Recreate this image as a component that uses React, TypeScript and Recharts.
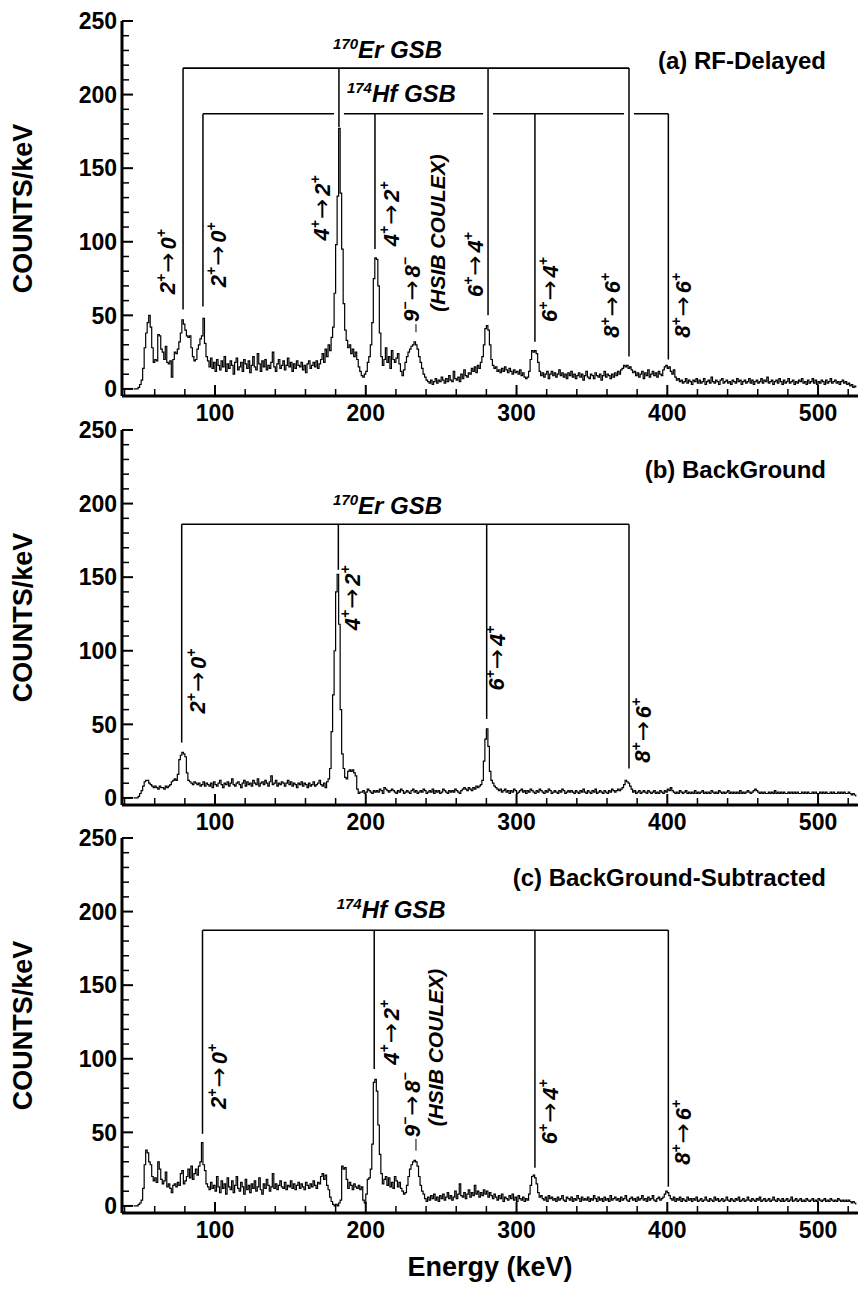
import React from 'react';
import { LineChart, Line, XAxis, YAxis, ReferenceLine, ReferenceDot } from 'recharts';

const FONT = '"Liberation Sans", Arial, Helvetica, sans-serif';

// ---------- axes ----------
const BIN_START = 46; // keV, energy of the first 1-keV bin
const X_DOMAIN: [number, number] = [38.3, 526.5];
const Y_DOMAIN: [number, number] = [-4.8, 250];
const X_TICKS = [40, 60, 80, 100, 120, 140, 160, 180, 200, 220, 240, 260, 280, 300, 320, 340, 360, 380, 400, 420, 440, 460, 480, 500, 520];
const Y_TICKS = [0, 10, 20, 30, 40, 50, 60, 70, 80, 90, 100, 110, 120, 130, 140, 150, 160, 170, 180, 190, 200, 210, 220, 230, 240, 250];

// ---------- (a) RF-Delayed spectrum, counts per 1-keV bin ----------
const rfDelayedLow = [
  0, 0, 0, 1, 3, 6, 14, 28, 38, 45,
  50, 42, 28, 18, 20, 19, 37, 36, 27, 25,
  20, 29, 18, 17, 19, 8, 20, 25, 24, 27,
  32, 38, 47, 44, 40, 36, 35, 36, 28, 22,
  19, 20, 27, 30, 34, 36, 48, 31, 22, 19,
  15, 21, 14, 18, 12, 20, 16, 13, 19, 15,
  22, 12, 17, 14, 19, 16, 10, 18, 21, 13,
  15, 18, 12, 20, 17, 14, 19, 11, 16, 22,
  15, 13, 24, 17, 12, 19, 15, 20, 13, 16,
  14, 18, 25, 15, 12, 17, 20, 14, 16, 19,
  13, 16, 21, 15, 18, 12, 17, 14, 19, 16,
  15, 18, 13, 16, 11, 17, 19, 14, 16, 18,
  15, 19, 14, 17, 20, 24, 18, 27, 22, 30,
  26, 35, 42, 65, 98, 131, 177, 133, 95, 58,
  40, 33, 28, 30, 24, 27, 22, 25, 20, 15,
  12, 9, 8, 10, 12, 18, 22, 30, 45, 75,
];
const rfDelayedMid = [
  89, 88, 70, 38, 22, 16, 20, 28, 18, 22,
  14, 26, 20, 18, 21, 24, 17, 12, 9, 13,
  18, 22, 25, 27, 29, 30, 32, 30, 27, 22,
  18, 14, 10, 8, 6, 5, 4, 6, 3, 5,
  7, 4, 6, 5, 8, 6, 4, 7, 5, 9,
  6, 5, 12, 7, 6, 8, 5, 10, 7, 13,
  9, 8, 11, 10, 14, 12, 15, 11, 16, 14,
  18, 22, 30, 41, 43, 40, 30, 20, 16, 14,
  15, 12, 13, 11, 14, 12, 15, 13, 11, 14,
  12, 10, 13, 11, 12, 10, 13, 9, 11, 8,
  7, 8, 12, 20, 26, 25, 26, 24, 18, 12,
  9, 11, 8, 10, 12, 7, 10, 12, 9, 11,
  8, 10, 13, 9, 11, 8, 10, 7, 11, 9,
  12, 8, 10, 7, 9, 11, 8, 10, 6, 9,
  12, 8, 7, 10, 9, 7, 11, 9, 8, 10,
  6, 9, 12, 8, 10, 9, 7, 10, 8, 11,
];
const rfDelayedHigh = [
  9, 12, 10, 13, 14, 16, 15, 16, 14, 15,
  13, 11, 12, 9, 11, 8, 10, 12, 7, 11,
  9, 13, 8, 10, 12, 9, 11, 8, 12, 10,
  9, 13, 15, 16, 14, 15, 12, 10, 13, 8,
  6, 7, 5, 6, 4, 5, 7, 4, 6, 5,
  3, 6, 5, 7, 4, 6, 4, 5, 7, 3,
  5, 6, 4, 8, 5, 4, 6, 5, 3, 6,
  7, 4, 5, 6, 4, 5, 3, 6, 5, 4,
  7, 5, 6, 3, 5, 6, 4, 5, 7, 4,
  6, 3, 5, 6, 4, 5, 7, 4, 6, 5,
  8, 4, 5, 6, 3, 5, 6, 4, 7, 5,
  3, 6, 4, 5, 7, 4, 5, 6, 3, 5,
  4, 6, 5, 7, 4, 5, 3, 6, 4, 5,
  7, 4, 6, 3, 5, 4, 6, 5, 3, 6,
  4, 5, 7, 4, 5, 6, 4, 5, 3, 5,
  6, 4, 5, 3, 4, 2, 3, 1, 2, 1,
];

// ---------- (b) BackGround spectrum ----------
const backgroundLow = [
  0, 0, 0, 1, 3, 5, 8, 11, 12, 12,
  10, 9, 8, 7, 8, 7, 6, 8, 7, 7,
  6, 8, 7, 8, 9, 11, 12, 13, 12, 16,
  26, 29, 31, 30, 28, 17, 12, 11, 10, 9,
  11, 10, 9, 10, 8, 9, 11, 8, 10, 9,
  8, 10, 7, 11, 9, 8, 10, 12, 9, 7,
  10, 9, 11, 8, 10, 13, 9, 8, 10, 11,
  9, 7, 10, 12, 8, 11, 9, 10, 8, 12,
  10, 9, 13, 8, 10, 11, 9, 12, 10, 8,
  11, 15, 9, 10, 12, 8, 10, 9, 11, 10,
  8, 10, 12, 9, 11, 8, 10, 9, 7, 10,
  9, 11, 8, 10, 9, 7, 10, 8, 9, 11,
  8, 9, 10, 12, 9, 8, 10, 7, 11, 13,
  20, 45, 70, 100, 140, 152, 118, 60, 30, 20,
  14, 13, 18, 19, 18, 19, 17, 15, 6, 3,
  4, 4, 5, 3, 4, 6, 5, 4, 3, 5,
];
const backgroundMid = [
  4, 5, 4, 6, 5, 3, 7, 6, 5, 4,
  5, 6, 5, 4, 3, 5, 4, 6, 5, 3,
  4, 5, 4, 3, 5, 6, 4, 5, 3, 4,
  5, 4, 6, 5, 3, 4, 5, 4, 6, 3,
  5, 4, 5, 3, 4, 6, 5, 4, 3, 5,
  4, 5, 4, 6, 5, 4, 3, 5, 6, 7,
  6, 5, 7, 6, 5, 7, 6, 8, 7, 8,
  9, 12, 25, 40, 47, 35, 18, 12, 10, 8,
  7, 6, 5, 6, 4, 5, 6, 4, 5, 3,
  5, 4, 6, 5, 3, 4, 5, 6, 4, 5,
  3, 5, 4, 6, 5, 4, 3, 5, 4, 6,
  5, 4, 3, 5, 4, 6, 5, 3, 4, 5,
  4, 3, 5, 4, 6, 5, 3, 4, 5, 4,
  5, 4, 3, 5, 4, 3, 5, 4, 6, 4,
  3, 5, 4, 3, 5, 4, 6, 3, 4, 5,
  4, 3, 5, 4, 3, 5, 4, 6, 5, 4,
];
const backgroundHigh = [
  5, 6, 5, 6, 7, 9, 12, 11, 10, 8,
  6, 4, 5, 3, 4, 5, 3, 4, 5, 4,
  3, 5, 4, 3, 4, 5, 3, 4, 3, 5,
  4, 3, 5, 4, 6, 5, 7, 5, 4, 3,
  4, 3, 5, 4, 3, 4, 5, 3, 4, 3,
  4, 3, 5, 3, 4, 3, 4, 5, 3, 4,
  3, 4, 3, 5, 4, 3, 4, 3, 5, 4,
  3, 4, 3, 4, 5, 3, 4, 3, 4, 3,
  4, 3, 5, 3, 4, 3, 4, 5, 4, 3,
  4, 5, 6, 5, 4, 3, 4, 3, 4, 3,
  3, 4, 3, 4, 3, 5, 3, 4, 3, 4,
  3, 4, 3, 3, 4, 3, 4, 3, 4, 3,
  4, 3, 3, 4, 3, 4, 3, 4, 3, 3,
  4, 3, 4, 3, 3, 4, 3, 4, 3, 4,
  3, 3, 4, 3, 4, 3, 3, 4, 3, 4,
  3, 4, 3, 3, 4, 3, 2, 3, 2, 1,
];

// ---------- (c) BackGround-Subtracted spectrum ----------
const subtractedLow = [
  0, 0, 0, 1, 2, 4, 12, 28, 38, 36,
  30, 28, 20, 17, 19, 16, 30, 25, 18, 15,
  17, 23, 13, 15, 12, 9, 14, 15, 13, 16,
  14, 22, 24, 15, 17, 20, 25, 19, 27, 18,
  22, 25, 21, 27, 30, 43, 28, 24, 15, 13,
  11, 16, 12, 14, 10, 20, 13, 9, 17, 12,
  15, 8, 19, 13, 11, 17, 9, 14, 20, 12,
  10, 16, 13, 8, 18, 11, 14, 9, 15, 12,
  17, 10, 13, 19, 11, 8, 15, 12, 18, 14,
  10, 13, 22, 12, 15, 11, 14, 17, 13, 12,
  16, 11, 14, 13, 17, 12, 15, 11, 14, 16,
  12, 15, 13, 11, 16, 14, 12, 15, 13, 17,
  14, 12, 16, 15, 20, 22, 18, 21, 14, 11,
  6, 3, 1, 0, 1, 0, 2, 4, 27, 25,
  26, 18, 12, 16, 14, 11, 15, 13, 12, 14,
  11, 13, 4, 2, 8, 18, 19, 25, 42, 84,
];
const subtractedMid = [
  86, 78, 55, 35, 22, 15, 18, 20, 14, 19,
  13, 16, 12, 20, 17, 13, 16, 12, 10, 8,
  9, 14, 20, 25, 28, 30, 31, 30, 27, 20,
  14, 10, 8, 5, 3, 6, 4, 7, 5, 8,
  4, 6, 3, 7, 5, 8, 4, 6, 9, 5,
  7, 4, 6, 10, 5, 8, 15, 7, 6, 9,
  5, 8, 11, 6, 9, 7, 14, 8, 10, 6,
  9, 7, 11, 8, 10, 6, 9, 7, 5, 8,
  6, 4, 7, 5, 8, 3, 6, 5, 4, 7,
  5, 8, 4, 6, 3, 7, 5, 4, 6, 3,
  5, 4, 8, 14, 20, 21, 19, 15, 9, 6,
  7, 5, 4, 6, 3, 7, 5, 6, 4, 5,
  3, 6, 4, 5, 7, 4, 3, 6, 5, 4,
  6, 3, 5, 4, 7, 5, 3, 6, 4, 5,
  4, 6, 3, 5, 4, 7, 5, 3, 6, 4,
  5, 3, 6, 4, 5, 3, 7, 4, 5, 6,
];
const subtractedHigh = [
  4, 5, 3, 6, 4, 5, 7, 4, 3, 5,
  6, 4, 5, 3, 6, 4, 5, 7, 4, 5,
  3, 6, 4, 5, 7, 4, 3, 5, 6, 4,
  5, 6, 8, 10, 9, 7, 5, 4, 6, 3,
  5, 4, 6, 3, 5, 4, 3, 6, 4, 5,
  3, 5, 4, 6, 3, 4, 5, 3, 4, 6,
  4, 3, 5, 4, 3, 6, 4, 5, 3, 4,
  5, 3, 4, 6, 4, 3, 5, 4, 3, 5,
  4, 6, 3, 4, 5, 3, 4, 6, 4, 3,
  5, 4, 3, 5, 4, 6, 3, 4, 5, 3,
  4, 5, 3, 4, 6, 4, 3, 5, 4, 3,
  5, 3, 4, 5, 3, 4, 6, 3, 4, 5,
  3, 4, 5, 3, 4, 3, 5, 4, 3, 4,
  5, 3, 4, 3, 5, 4, 3, 4, 5, 3,
  4, 3, 5, 4, 3, 4, 3, 5, 4, 3,
  4, 3, 4, 3, 4, 3, 2, 3, 2, 1,
];

// ---------- level-scheme annotations (energies in keV, heights in counts) ----------
type Bracket = { top: number; lines: number[]; ends: number[]; gaps: number[] };
type Trans = { e: number; v: number; a: string; sa: string; b: string; sb: string };
type Note = { e: number; v: number; text: string };
type Caption = { e: number; v: number; sup: string; text: string };
type Mark = { e: number; v1: number; v2: number };

const erBracketA: Bracket = { top: 218, lines: [78.8, 182.2, 281.1, 374.6], ends: [54, 178, 50, 22], gaps: [] };
const hfBracketA: Bracket = { top: 187, lines: [92.0, 206.1, 312.2, 400.7], ends: [56, 95, 32, 20], gaps: [182.2, 281.1, 374.6] };
const erBracketB: Bracket = { top: 186, lines: [77.9, 181.8, 280.2, 374.6], ends: [37.6, 155, 53.7, 20], gaps: [] };
const hfBracketC: Bracket = { top: 187.3, lines: [91.7, 205.6, 312.2, 400.7], ends: [49, 93, 26, 13], gaps: [] };

const transA: Trans[] = [
  { e: 68.8, v: 86.5, a: '2', sa: '+', b: '0', sb: '+' },
  { e: 102.0, v: 91.2, a: '2', sa: '+', b: '0', sb: '+' },
  { e: 170.8, v: 123, a: '4', sa: '+', b: '2', sb: '+' },
  { e: 217.0, v: 119, a: '4', sa: '+', b: '2', sb: '+' },
  { e: 230.5, v: 67.6, a: '9', sa: '−', b: '8', sb: '−' },
  { e: 272.7, v: 84.5, a: '6', sa: '+', b: '4', sb: '+' },
  { e: 322.2, v: 67.6, a: '6', sa: '+', b: '4', sb: '+' },
  { e: 363.1, v: 56.8, a: '8', sa: '+', b: '6', sb: '+' },
  { e: 410.4, v: 56.8, a: '8', sa: '+', b: '6', sb: '+' },
];
const transB: Trans[] = [
  { e: 88.7, v: 79.5, a: '2', sa: '+', b: '0', sb: '+' },
  { e: 190.9, v: 136, a: '4', sa: '+', b: '2', sb: '+' },
  { e: 286.8, v: 95, a: '6', sa: '+', b: '4', sb: '+' },
  { e: 383.8, v: 46, a: '8', sa: '+', b: '6', sb: '+' },
];
const transC: Trans[] = [
  { e: 102.4, v: 88, a: '2', sa: '+', b: '0', sb: '+' },
  { e: 217.0, v: 118, a: '4', sa: '+', b: '2', sb: '+' },
  { e: 230.7, v: 68.8, a: '9', sa: '−', b: '8', sb: '−' },
  { e: 322.2, v: 64, a: '6', sa: '+', b: '4', sb: '+' },
  { e: 410.4, v: 50, a: '8', sa: '+', b: '6', sb: '+' },
];
const notesA: Note[] = [{ e: 247.9, v: 106, text: '(HSIB COULEX)' }];
const notesC: Note[] = [{ e: 246.1, v: 107.6, text: '(HSIB COULEX)' }];
const marksA: Mark[] = [{ e: 233.3, v1: 38.5, v2: 44 }];
const marksC: Mark[] = [{ e: 233.3, v1: 37.5, v2: 45.6 }];
const captionsA: Caption[] = [
  { e: 178.3, v: 225, sup: '170', text: 'Er GSB' },
  { e: 187.5, v: 194.8, sup: '174', text: 'Hf GSB' },
];
const captionsB: Caption[] = [{ e: 178.3, v: 192.9, sup: '170', text: 'Er GSB' }];
const captionsC: Caption[] = [{ e: 180.7, v: 195.5, sup: '174', text: 'Hf GSB' }];
const TITLE_E = 505.3;
const TITLE_V = 217.6;

// ---------- tick renderers ----------
const BottomTick = (p: any) => {
  const v = p.payload.value;
  const major = v % 100 === 0;
  return (
    <g>
      <line x1={p.x} x2={p.x} y1={p.y} y2={p.y - (major ? 11 : 7)} stroke="#000" strokeWidth={major ? 2 : 1.5} />
      {major && (
        <text x={p.x} y={p.y + 25} textAnchor="middle" fontFamily={FONT} fontWeight="bold" fontSize={23} fill="#000">
          {v}
        </text>
      )}
    </g>
  );
};
const TopTick = (p: any) => {
  const v = p.payload.value;
  const major = v % 100 === 0;
  return <line x1={p.x} x2={p.x} y1={p.y} y2={p.y + (major ? 11 : 7)} stroke="#000" strokeWidth={major ? 2 : 1.5} />;
};
const LeftTick = (p: any) => {
  const v = p.payload.value;
  const major = v % 50 === 0;
  return (
    <g>
      <line x1={p.x} x2={p.x + (major ? 11 : 7)} y1={p.y} y2={p.y} stroke="#000" strokeWidth={major ? 2 : 1.5} />
      {major && (
        <text x={p.x - 5} y={p.y} dy="0.36em" textAnchor="end" fontFamily={FONT} fontWeight="bold" fontSize={23} fill="#000">
          {v}
        </text>
      )}
    </g>
  );
};
const RightTick = (p: any) => {
  const v = p.payload.value;
  const major = v % 50 === 0;
  return <line x1={p.x - (major ? 6 : 4)} x2={p.x} y1={p.y} y2={p.y} stroke="#000" strokeWidth={major ? 2 : 1.2} />;
};

const TransText = ({ cx, cy, t }: { cx: number; cy: number; t: Trans }) => (
  <text
    x={cx}
    y={cy}
    transform={`rotate(-90 ${cx} ${cy})`}
    textAnchor="middle"
    dominantBaseline="central"
    fontFamily={FONT}
    fontWeight="bold"
    fontStyle="italic"
    fontSize={22}
    fill="#000"
  >
    {t.a}
    <tspan fontSize={14} dy={-7}>{t.sa}</tspan>
    <tspan dy={7} dx={1} fontFamily='"DejaVu Sans", sans-serif' fontWeight="normal" fontStyle="normal" fontSize={24}>{'→'}</tspan>
    <tspan dx={3}>{t.b}</tspan>
    <tspan fontSize={14} dy={-7}>{t.sb}</tspan>
  </text>
);

type PanelSpec = {
  top: number;
  height: number;
  marginTop: number;
  axisHeight: number;
  values: number[];
  brackets: Bracket[];
  trans: Trans[];
  notes: Note[];
  marks: Mark[];
  captions: Caption[];
  title: string;
  xTitle?: string;
};

const GAP = 3.3;

function Panel({ spec }: { spec: PanelSpec }) {
  const rows = spec.values.map((v, i) => ({ e: BIN_START + i, v }));
  const lines: React.ReactElement[] = [];
  spec.brackets.forEach((b, bi) => {
    const xs = [b.lines[0]];
    b.gaps.forEach((g) => {
      xs.push(g - GAP);
      xs.push(g + GAP);
    });
    xs.push(b.lines[b.lines.length - 1]);
    for (let k = 0; k < xs.length; k += 2) {
      lines.push(
        <ReferenceLine
          key={`h${bi}-${k}`}
          xAxisId="b"
          yAxisId="l"
          segment={[{ x: xs[k], y: b.top }, { x: xs[k + 1], y: b.top }]}
          stroke="#000"
          strokeWidth={1.6}
        />
      );
    }
    b.lines.forEach((e, li) => {
      lines.push(
        <ReferenceLine
          key={`v${bi}-${li}`}
          xAxisId="b"
          yAxisId="l"
          segment={[{ x: e, y: b.top }, { x: e, y: b.ends[li] }]}
          stroke="#000"
          strokeWidth={1.5}
        />
      );
    });
  });
  spec.marks.forEach((m, mi) => {
    lines.push(
      <ReferenceLine
        key={`m${mi}`}
        xAxisId="b"
        yAxisId="l"
        segment={[{ x: m.e, y: m.v1 }, { x: m.e, y: m.v2 }]}
        stroke="#000"
        strokeWidth={1}
      />
    );
  });

  const yLabel = (props: any) => {
    const vb = props.viewBox || { x: 0, y: spec.marginTop, width: 122, height: 375 };
    const cx = vb.x + 23;
    const cy = vb.y + vb.height / 2;
    return (
      <text
        x={cx}
        y={cy}
        transform={`rotate(-90 ${cx} ${cy})`}
        textAnchor="middle"
        dominantBaseline="central"
        fontFamily={FONT}
        fontWeight="bold"
        fontSize={27}
        fill="#000"
      >
        COUNTS/keV
      </text>
    );
  };
  const xLabel = (props: any) => {
    if (!spec.xTitle) return null;
    const vb = props.viewBox || { x: 122, y: 395, width: 736, height: 78 };
    return (
      <text x={vb.x + vb.width / 2} y={vb.y + 63} textAnchor="middle" fontFamily={FONT} fontWeight="bold" fontSize={27} fill="#000">
        {spec.xTitle}
      </text>
    );
  };

  return (
    <div style={{ position: 'absolute', left: 0, top: spec.top, width: 860, height: spec.height }}>
      <LineChart width={860} height={spec.height} data={rows} margin={{ top: spec.marginTop, right: 2, bottom: 0, left: 0 }}>
        <XAxis
          xAxisId="b"
          dataKey="e"
          type="number"
          domain={X_DOMAIN}
          allowDataOverflow
          ticks={X_TICKS}
          interval={0}
          tick={BottomTick}
          tickLine={false}
          tickSize={0}
          tickMargin={0}
          height={spec.axisHeight}
          axisLine={{ stroke: '#000', strokeWidth: 3 }}
          label={xLabel}
        />
        <XAxis
          xAxisId="t"
          orientation="top"
          dataKey="e"
          type="number"
          domain={X_DOMAIN}
          allowDataOverflow
          ticks={X_TICKS}
          interval={0}
          tick={TopTick}
          tickLine={false}
          tickSize={0}
          tickMargin={0}
          height={0}
          axisLine={{ stroke: '#000', strokeWidth: 2 }}
        />
        <YAxis
          yAxisId="l"
          type="number"
          domain={Y_DOMAIN}
          allowDataOverflow
          ticks={Y_TICKS}
          interval={0}
          tick={LeftTick}
          tickLine={false}
          tickSize={0}
          tickMargin={0}
          width={122}
          axisLine={{ stroke: '#000', strokeWidth: 3 }}
          label={yLabel}
        />
        <YAxis
          yAxisId="r"
          orientation="right"
          type="number"
          domain={Y_DOMAIN}
          allowDataOverflow
          ticks={Y_TICKS}
          interval={0}
          tick={RightTick}
          tickLine={false}
          tickSize={0}
          tickMargin={0}
          width={0}
          axisLine={{ stroke: '#000', strokeWidth: 1, strokeDasharray: '1 3' }}
        />
        <Line
          xAxisId="b"
          yAxisId="l"
          dataKey="v"
          type="stepAfter"
          stroke="#000"
          strokeWidth={1.2}
          dot={false}
          activeDot={false}
          isAnimationActive={false}
        />
        {lines}
        {spec.trans.map((t, i) => (
          <ReferenceDot
            key={`t${i}`}
            xAxisId="b"
            yAxisId="l"
            x={t.e}
            y={t.v}
            r={0}
            shape={(p: any) => <TransText cx={p.cx} cy={p.cy} t={t} />}
          />
        ))}
        {spec.notes.map((n, i) => (
          <ReferenceDot
            key={`n${i}`}
            xAxisId="b"
            yAxisId="l"
            x={n.e}
            y={n.v}
            r={0}
            shape={(p: any) => (
              <text
                x={p.cx}
                y={p.cy}
                transform={`rotate(-90 ${p.cx} ${p.cy})`}
                textAnchor="middle"
                dominantBaseline="central"
                fontFamily={FONT}
                fontWeight="bold"
                fontStyle="italic"
                fontSize={21}
                fill="#000"
              >
                {n.text}
              </text>
            )}
          />
        ))}
        {spec.captions.map((c, i) => (
          <ReferenceDot
            key={`c${i}`}
            xAxisId="b"
            yAxisId="l"
            x={c.e}
            y={c.v}
            r={0}
            shape={(p: any) => (
              <text x={p.cx} y={p.cy} fontFamily={FONT} fontWeight="bold" fontStyle="italic" fontSize={24} fill="#000">
                <tspan fontSize={15} dy={-9}>{c.sup}</tspan>
                <tspan dy={9}>{c.text}</tspan>
              </text>
            )}
          />
        ))}
        <ReferenceDot
          xAxisId="b"
          yAxisId="l"
          x={TITLE_E}
          y={TITLE_V}
          r={0}
          shape={(p: any) => (
            <text x={p.cx} y={p.cy} textAnchor="end" fontFamily={FONT} fontWeight="bold" fontSize={24} fill="#000">
              {spec.title}
            </text>
          )}
        />
      </LineChart>
    </div>
  );
}

const panels: PanelSpec[] = [
  {
    top: 0,
    height: 430,
    marginTop: 21,
    axisHeight: 34,
    values: [...rfDelayedLow, ...rfDelayedMid, ...rfDelayedHigh],
    brackets: [erBracketA, hfBracketA],
    trans: transA,
    notes: notesA,
    marks: marksA,
    captions: captionsA,
    title: '(a) RF-Delayed',
  },
  {
    top: 410,
    height: 430,
    marginTop: 20,
    axisHeight: 35,
    values: [...backgroundLow, ...backgroundMid, ...backgroundHigh],
    brackets: [erBracketB],
    trans: transB,
    notes: [],
    marks: [],
    captions: captionsB,
    title: '(b) BackGround',
  },
  {
    top: 818,
    height: 473,
    marginTop: 20,
    axisHeight: 78,
    values: [...subtractedLow, ...subtractedMid, ...subtractedHigh],
    brackets: [hfBracketC],
    trans: transC,
    notes: notesC,
    marks: marksC,
    captions: captionsC,
    title: '(c) BackGround-Subtracted',
    xTitle: 'Energy (keV)',
  },
];

export default function App() {
  return (
    <div style={{ position: 'absolute', left: 0, top: 0, width: 860, height: 1291, background: '#fff' }}>
      {panels.map((s, i) => (
        <Panel key={i} spec={s} />
      ))}
    </div>
  );
}
